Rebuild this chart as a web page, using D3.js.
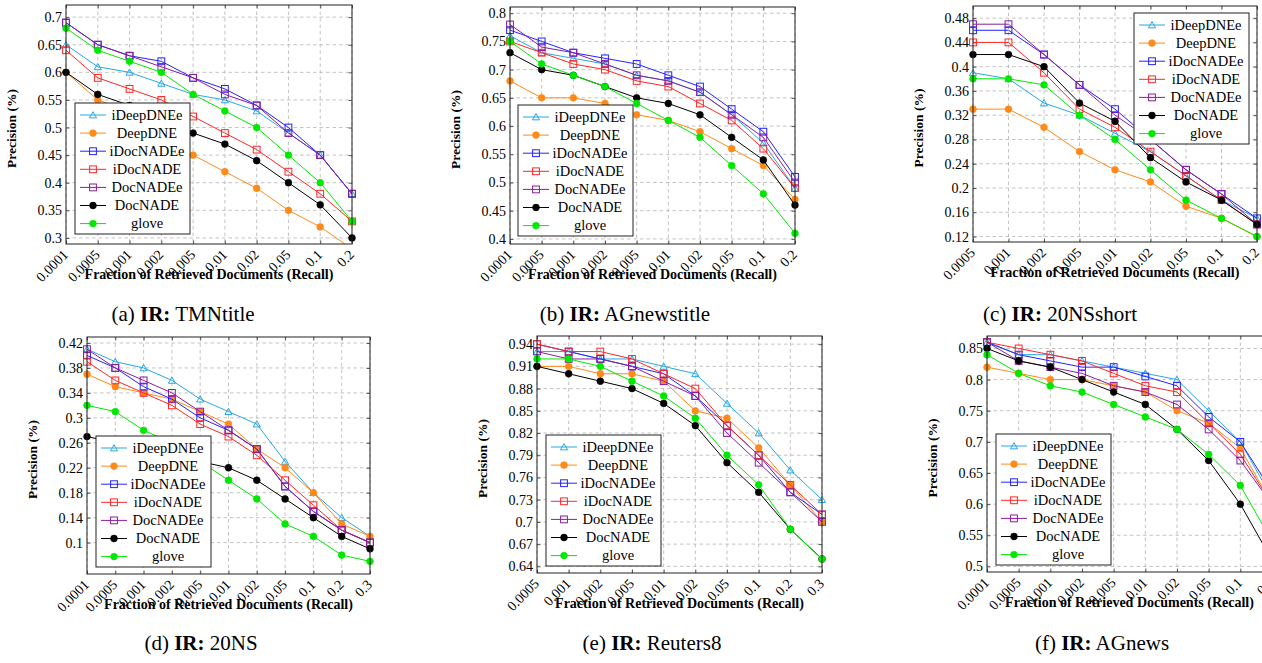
<!DOCTYPE html>
<html><head><meta charset="utf-8">
<script src="https://cdn.jsdelivr.net/npm/d3@7"></script>
<style>
body{margin:0;background:#fff}
svg{display:block}
text{font-family:"Liberation Serif","Times New Roman",serif;fill:#000}
</style>
</head><body>
<svg id="chart" width="1262" height="663"></svg>
<script>
// ---------- series ----------
const seriesNames = ["iDeepDNEe","DeepDNE","iDocNADEe","iDocNADE","DocNADEe","DocNADE","glove"];
const seriesColors = ["#27a8e6","#ff8a1a","#2323ff","#ff2626","#8b1c9e","#000000","#00e800"];
const seriesMarkers = ["triangle","circle","square","square","square","circle","circle"];

// ---------- (a) TMNtitle ----------
const xTMNtitle = ["0.0001","0.0005","0.001","0.002","0.005","0.01","0.02","0.05","0.1","0.2"];
const yTicksTMNtitle = [0.3,0.35,0.4,0.45,0.5,0.55,0.6,0.65,0.7];
const vTMNtitle = [
  [0.65,0.61,0.60,0.58,0.56,0.55,0.53,0.49,0.45,0.38],
  [0.60,0.55,0.53,0.49,0.45,0.42,0.39,0.35,0.32,0.28],
  [0.69,0.65,0.63,0.62,0.59,0.57,0.54,0.50,0.45,0.38],
  [0.64,0.59,0.57,0.55,0.52,0.49,0.46,0.42,0.38,0.33],
  [0.69,0.65,0.63,0.61,0.59,0.56,0.54,0.49,0.45,0.38],
  [0.60,0.56,0.54,0.52,0.49,0.47,0.44,0.40,0.36,0.30],
  [0.68,0.64,0.62,0.60,0.56,0.53,0.50,0.45,0.40,0.33]
];
// ---------- (b) AGnewstitle ----------
const xAGnewstitle = ["0.0001","0.0005","0.001","0.002","0.005","0.01","0.02","0.05","0.1","0.2"];
const yTicksAGnewstitle = [0.4,0.45,0.5,0.55,0.6,0.65,0.7,0.75,0.8];
const vAGnewstitle = [
  [0.76,0.73,0.72,0.71,0.69,0.68,0.66,0.62,0.57,0.49],
  [0.68,0.65,0.65,0.64,0.62,0.61,0.59,0.56,0.53,0.47],
  [0.77,0.75,0.73,0.72,0.71,0.69,0.67,0.63,0.59,0.51],
  [0.75,0.73,0.71,0.70,0.68,0.67,0.64,0.61,0.56,0.49],
  [0.78,0.74,0.73,0.71,0.69,0.68,0.66,0.62,0.58,0.50],
  [0.73,0.70,0.69,0.67,0.65,0.64,0.62,0.58,0.54,0.46],
  [0.75,0.71,0.69,0.67,0.64,0.61,0.58,0.53,0.48,0.41]
];
// ---------- (c) 20NSshort ----------
const x20NSshort = ["0.0005","0.001","0.002","0.005","0.01","0.02","0.05","0.1","0.2"];
const yTicks20NSshort = [0.12,0.16,0.2,0.24,0.28,0.32,0.36,0.4,0.44,0.48];
const v20NSshort = [
  [0.39,0.38,0.34,0.32,0.29,0.26,0.22,0.18,0.15],
  [0.33,0.33,0.30,0.26,0.23,0.21,0.17,0.15,0.12],
  [0.46,0.46,0.42,0.37,0.33,0.28,0.23,0.19,0.15],
  [0.44,0.44,0.39,0.33,0.30,0.26,0.22,0.18,0.14],
  [0.47,0.47,0.42,0.37,0.32,0.28,0.23,0.19,0.14],
  [0.42,0.42,0.40,0.34,0.31,0.25,0.21,0.18,0.14],
  [0.38,0.38,0.37,0.32,0.28,0.23,0.18,0.15,0.12]
];
// ---------- (d) 20NS ----------
const x20NS = ["0.0001","0.0005","0.001","0.002","0.005","0.01","0.02","0.05","0.1","0.2","0.3"];
const yTicks20NS = [0.1,0.14,0.18,0.22,0.26,0.3,0.34,0.38,0.42];
const v20NS = [
  [0.41,0.39,0.38,0.36,0.33,0.31,0.29,0.23,0.18,0.14,0.11],
  [0.37,0.35,0.34,0.33,0.31,0.29,0.25,0.22,0.18,0.13,0.11],
  [0.40,0.38,0.35,0.33,0.30,0.28,0.25,0.19,0.15,0.12,0.10],
  [0.39,0.36,0.34,0.32,0.29,0.27,0.24,0.20,0.16,0.12,0.10],
  [0.41,0.38,0.36,0.34,0.31,0.28,0.25,0.19,0.15,0.12,0.10],
  [0.27,0.26,0.25,0.24,0.23,0.22,0.20,0.17,0.14,0.11,0.09],
  [0.32,0.31,0.28,0.26,0.23,0.20,0.17,0.13,0.11,0.08,0.07]
];
// ---------- (e) Reuters8 ----------
const xReuters8 = ["0.0005","0.001","0.002","0.005","0.01","0.02","0.05","0.1","0.2","0.3"];
const yTicksReuters8 = [0.64,0.67,0.7,0.73,0.76,0.79,0.82,0.85,0.88,0.91,0.94];
const vReuters8 = [
  [0.93,0.93,0.92,0.92,0.91,0.90,0.86,0.82,0.77,0.73],
  [0.91,0.91,0.90,0.90,0.89,0.85,0.84,0.80,0.75,0.70],
  [0.94,0.93,0.92,0.91,0.90,0.87,0.83,0.79,0.74,0.71],
  [0.94,0.93,0.93,0.92,0.90,0.88,0.83,0.79,0.75,0.71],
  [0.93,0.92,0.92,0.91,0.89,0.87,0.82,0.78,0.74,0.70],
  [0.91,0.90,0.89,0.88,0.86,0.83,0.78,0.74,0.69,0.65],
  [0.92,0.92,0.91,0.89,0.87,0.84,0.79,0.75,0.69,0.65]
];
// ---------- (f) AGnews ----------
const xAGnews = ["0.0001","0.0005","0.001","0.002","0.005","0.01","0.02","0.05","0.1","0.2"];
const yTicksAGnews = [0.5,0.55,0.6,0.65,0.7,0.75,0.8,0.85];
const vAGnews = [
  [0.86,0.84,0.84,0.83,0.82,0.81,0.80,0.75,0.70,0.61],
  [0.82,0.81,0.80,0.80,0.79,0.78,0.75,0.73,0.69,0.60],
  [0.86,0.84,0.83,0.82,0.82,0.805,0.79,0.74,0.70,0.62],
  [0.86,0.85,0.84,0.83,0.81,0.79,0.78,0.73,0.68,0.60],
  [0.86,0.83,0.82,0.81,0.79,0.78,0.76,0.72,0.67,0.60],
  [0.85,0.83,0.82,0.80,0.78,0.76,0.72,0.67,0.60,0.51],
  [0.84,0.81,0.79,0.78,0.76,0.74,0.72,0.68,0.63,0.54]
];

const captionTags = ["(a)","(b)","(c)","(d)","(e)","(f)"];
const captionNames = ["TMNtitle","AGnewstitle","20NSshort","20NS","Reuters8","AGnews"];
const yLabel = "Precision (%)";
const xLabel = "Fraction of Retrieved Documents (Recall)";

// ---------- layout (pixels) ----------
const panels = [
  {x:xTMNtitle,   yt:yTicksTMNtitle,   v:vTMNtitle,   f:[66,5,352,244],   dom:[0.289,0.722], lg:[75,103],   cap:[183,321]},
  {x:xAGnewstitle,yt:yTicksAGnewstitle,v:vAGnewstitle,f:[510,7,795,244],  dom:[0.391,0.811], lg:[518,105],  cap:[625,321]},
  {x:x20NSshort,  yt:yTicks20NSshort,  v:v20NSshort,  f:[973,6,1257,242], dom:[0.111,0.500], lg:[1134,13],  cap:[1060,321]},
  {x:x20NS,       yt:yTicks20NS,       v:v20NS,       f:[87,337,370,574], dom:[0.0497,0.4296],lg:[96,436],  cap:[201,650]},
  {x:xReuters8,   yt:yTicksReuters8,   v:vReuters8,   f:[537,336,822,573],dom:[0.631,0.951], lg:[546,435],  cap:[652,650]},
  {x:xAGnews,     yt:yTicksAGnews,     v:vAGnews,     f:[987,336,1272,572],dom:[0.491,0.870],lg:[996,434],  cap:[1102,650]}
];

const svg = d3.select("#chart");
const defs = svg.append("defs");

function drawMarker(g, type, color, cx, cy) {
  if (type === "circle") {
    g.append("circle").attr("cx",cx).attr("cy",cy).attr("r",3.4).attr("fill",color).attr("stroke",color).attr("stroke-width",0.6);
  } else if (type === "square") {
    g.append("rect").attr("x",cx-3.4).attr("y",cy-3.4).attr("width",6.8).attr("height",6.8)
      .attr("fill","none").attr("stroke",color).attr("stroke-width",1);
  } else {
    g.append("path").attr("transform",`translate(${cx},${cy+0.8})`)
      .attr("d", d3.symbol().type(d3.symbolTriangle).size(22)())
      .attr("fill","none").attr("stroke",color).attr("stroke-width",1);
  }
}

panels.forEach((p, pi) => {
  const [L,T,R,B] = p.f;
  const xs = d3.scalePoint().domain(p.x).range([L,R]).padding(0);
  const ys = d3.scaleLinear().domain(p.dom).range([B,T]);
  const g = svg.append("g");

  // grid
  const grid = g.append("g").attr("stroke","#b4b4b4").attr("stroke-width",0.8).attr("stroke-dasharray","3.5,3");
  p.x.forEach(d => grid.append("line").attr("x1",xs(d)).attr("x2",xs(d)).attr("y1",T).attr("y2",B));
  p.yt.forEach(d => grid.append("line").attr("x1",L).attr("x2",R).attr("y1",ys(d)).attr("y2",ys(d)));

  // axes
  const ya = g.append("g").attr("transform",`translate(${L},0)`)
    .call(d3.axisLeft(ys).tickValues(p.yt).tickFormat(d=>String(d)).tickSizeInner(-3.5).tickSizeOuter(0).tickPadding(4));
  const yaR = g.append("g").attr("transform",`translate(${R},0)`)
    .call(d3.axisRight(ys).tickValues(p.yt).tickFormat("").tickSizeInner(-3.5).tickSizeOuter(0));
  const xa = g.append("g").attr("transform",`translate(0,${B})`)
    .call(d3.axisBottom(xs).tickSizeInner(-3.5).tickSizeOuter(0));
  const xaT = g.append("g").attr("transform",`translate(0,${T})`)
    .call(d3.axisTop(xs).tickFormat("").tickSizeInner(-3.5).tickSizeOuter(0));
  [ya,yaR,xa,xaT].forEach(a => { a.select(".domain").remove(); a.selectAll("line").attr("stroke","#333").attr("stroke-width",0.8); });
  ya.selectAll("text").attr("font-size",14).attr("font-family",'"Liberation Serif",serif').attr("fill","#222");
  xa.selectAll("text").attr("font-size",14).attr("font-family",'"Liberation Serif",serif').attr("fill","#222")
    .attr("text-anchor","end").attr("x",0).attr("y",0).attr("dy","0.35em")
    .attr("transform","translate(-1,8) rotate(-45)");

  // clip
  const cid = "clip"+pi;
  defs.append("clipPath").attr("id",cid).append("rect").attr("x",L).attr("y",T).attr("width",R-L).attr("height",B-T);

  // series
  const line = d3.line().x((d,i)=>xs(p.x[i])).y(d=>ys(d));
  p.v.forEach((vals, si) => {
    const col = seriesColors[si];
    g.append("path").attr("d", line(vals)).attr("fill","none").attr("stroke",col).attr("stroke-width",1)
      .attr("clip-path",`url(#${cid})`);
    const mg = g.append("g");
    vals.forEach((d,i) => { if (d >= p.dom[0] && d <= p.dom[1]) drawMarker(mg, seriesMarkers[si], col, xs(p.x[i]), ys(d)); });
  });

  // frame
  g.append("rect").attr("x",L).attr("y",T).attr("width",R-L).attr("height",B-T)
    .attr("fill","none").attr("stroke","#222").attr("stroke-width",1);

  // axis titles
  g.append("text").attr("transform",`translate(${L-50},${(T+B)/2+4}) rotate(-90)`)
    .attr("text-anchor","middle").attr("font-weight","bold").attr("font-size",13.5).text(yLabel);
  g.append("text").attr("x",(L+R)/2).attr("y",B+35).attr("text-anchor","middle")
    .attr("font-weight","bold").attr("font-size",14).text(xLabel);

  // legend
  const [lx,ly] = p.lg;
  const lw = 115, lh = 131, rowH = 18.1;
  const lg = g.append("g");
  lg.append("rect").attr("x",lx).attr("y",ly).attr("width",lw).attr("height",lh).attr("fill","#fff").attr("stroke","#222").attr("stroke-width",1);
  seriesNames.forEach((n, si) => {
    const cy = ly + 12 + si*rowH;
    lg.append("line").attr("x1",lx+5).attr("x2",lx+31).attr("y1",cy).attr("y2",cy).attr("stroke",seriesColors[si]).attr("stroke-width",1);
    drawMarker(lg, seriesMarkers[si], seriesColors[si], lx+18, cy);
    lg.append("text").attr("x",lx+72).attr("y",cy).attr("dy","0.33em").attr("text-anchor","middle")
      .attr("font-size",14.5).text(n);
  });

  // caption
  const cap = svg.append("text").attr("x",p.cap[0]).attr("y",p.cap[1]).attr("text-anchor","middle").attr("font-size",21);
  cap.append("tspan").text(captionTags[pi]+" ");
  cap.append("tspan").attr("font-weight","bold").text("IR:");
  cap.append("tspan").text(" "+captionNames[pi]);
});
</script>
</body></html>
